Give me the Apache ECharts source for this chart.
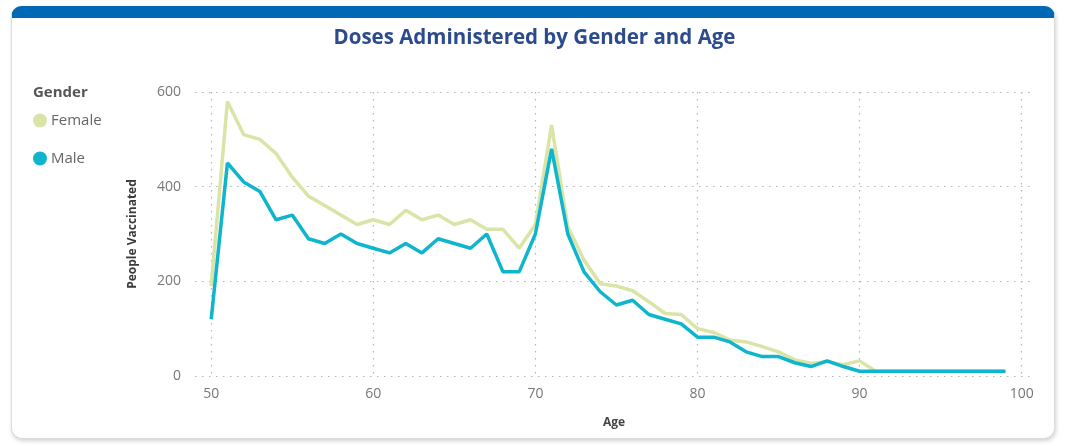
<!DOCTYPE html>
<html>
<head>
<meta charset="utf-8">
<script src="https://cdn.jsdelivr.net/npm/echarts@6/dist/echarts.min.js"></script>
<style>
  html, body { margin: 0; padding: 0; width: 1069px; height: 446px; background: #ffffff; overflow: hidden; }
  #card { position: absolute; left: 11px; top: 6px; width: 1044px; height: 433px; background: #fff;
          border-radius: 11px; border: 1px solid #dcdcdc; border-top: 12px solid #0068B5;
          box-shadow: 1px 2px 4px rgba(0,0,0,0.18); box-sizing: border-box; }
  #chart { position: absolute; left: 0; top: 0; width: 1069px; height: 446px; }
</style>
</head>
<body>
<div id="card"></div>
<div id="chart"></div>
<script>
const ages = [50,51,52,53,54,55,56,57,58,59,60,61,62,63,64,65,66,67,68,69,70,71,72,73,74,75,76,77,78,79,80,81,82,83,84,85,86,87,88,89,90,91,92,93,94,95,96,97,98,99];
const female = [190,580,510,500,470,420,380,360,340,320,330,320,350,330,340,320,330,310,310,270,320,530,315,245,195,190,180,157,132,130,100,92,76,72,62,51,34,27,30,24,32,10,10,10,10,10,10,10,10,10];
const male = [120,450,410,390,330,340,290,280,300,280,270,260,280,260,290,280,270,300,220,220,300,480,300,220,178,150,160,130,120,110,82,82,72,51,41,41,28,20,32,20,10,10,10,10,10,10,10,10,10,10];
const xTicks = [50,60,70,80,90,100];
const yTicks = [0,200,400,600];

const chart = echarts.init(document.getElementById('chart'), null, { renderer: 'canvas' });
const font = '"Open Sans", "Noto Sans", sans-serif';
chart.setOption({
  backgroundColor: 'transparent',
  animation: false,
  textStyle: { fontFamily: font },
  title: [{
    text: 'Doses Administered by Gender and Age',
    left: 'center', top: 23,
    textStyle: { color: '#2B4B8E', fontSize: 20.5, fontWeight: 'bold', fontFamily: font }
  }, {
    text: 'Gender', left: 28, top: 80,
    textStyle: { color: '#555555', fontSize: 15, fontWeight: 'bold', fontFamily: font }
  }],
  legend: {
    orient: 'vertical', left: 28, top: 108, itemGap: 23,
    icon: 'circle', itemWidth: 14, itemHeight: 14,
    textStyle: { color: '#666666', fontSize: 15, fontFamily: font, padding: [0,0,0,-1] },
    data: ['Female', 'Male']
  },
  grid: { left: 195, right: 36, top: 92, bottom: 70, containLabel: false },
  xAxis: {
    type: 'value', min: 49, max: 100.7,
    name: 'Age', nameLocation: 'middle', nameGap: 41,
    nameTextStyle: { color: '#444', fontSize: 12, fontWeight: 'bold', fontFamily: font },
    axisLine: { show: false },
    axisTick: { show: false, customValues: xTicks },
    axisLabel: { customValues: xTicks, color: '#777', fontSize: 14, margin: 11, fontFamily: font },
    splitLine: { show: true, lineStyle: { color: '#b4b4b4', type: [1.5, 5.5], width: 1.2 } }
  },
  yAxis: {
    type: 'value', min: 0, max: 600, interval: 200,
    name: 'People Vaccinated', nameLocation: 'middle', nameGap: 56,
    nameTextStyle: { color: '#3a3a3a', fontSize: 12, fontWeight: 'bold', fontFamily: font },
    axisLine: { show: false }, axisTick: { show: false },
    axisLabel: { color: '#777', fontSize: 14, margin: 14, fontFamily: font },
    splitLine: { show: true, lineStyle: { color: '#b4b4b4', type: [1.5, 5.5], width: 1.2 } }
  },
  series: [{
    name: 'Female', type: 'line', data: ages.map((a, i) => [a, female[i]]),
    showSymbol: false, symbol: 'none', color: '#DAE4A6',
    lineStyle: { width: 3.5, color: '#DAE4A6' }
  }, {
    name: 'Male', type: 'line', data: ages.map((a, i) => [a, male[i]]),
    showSymbol: false, symbol: 'none', color: '#0FB5CD',
    lineStyle: { width: 3.5, color: '#0FB5CD' }
  }]
});
</script>
</body>
</html>
